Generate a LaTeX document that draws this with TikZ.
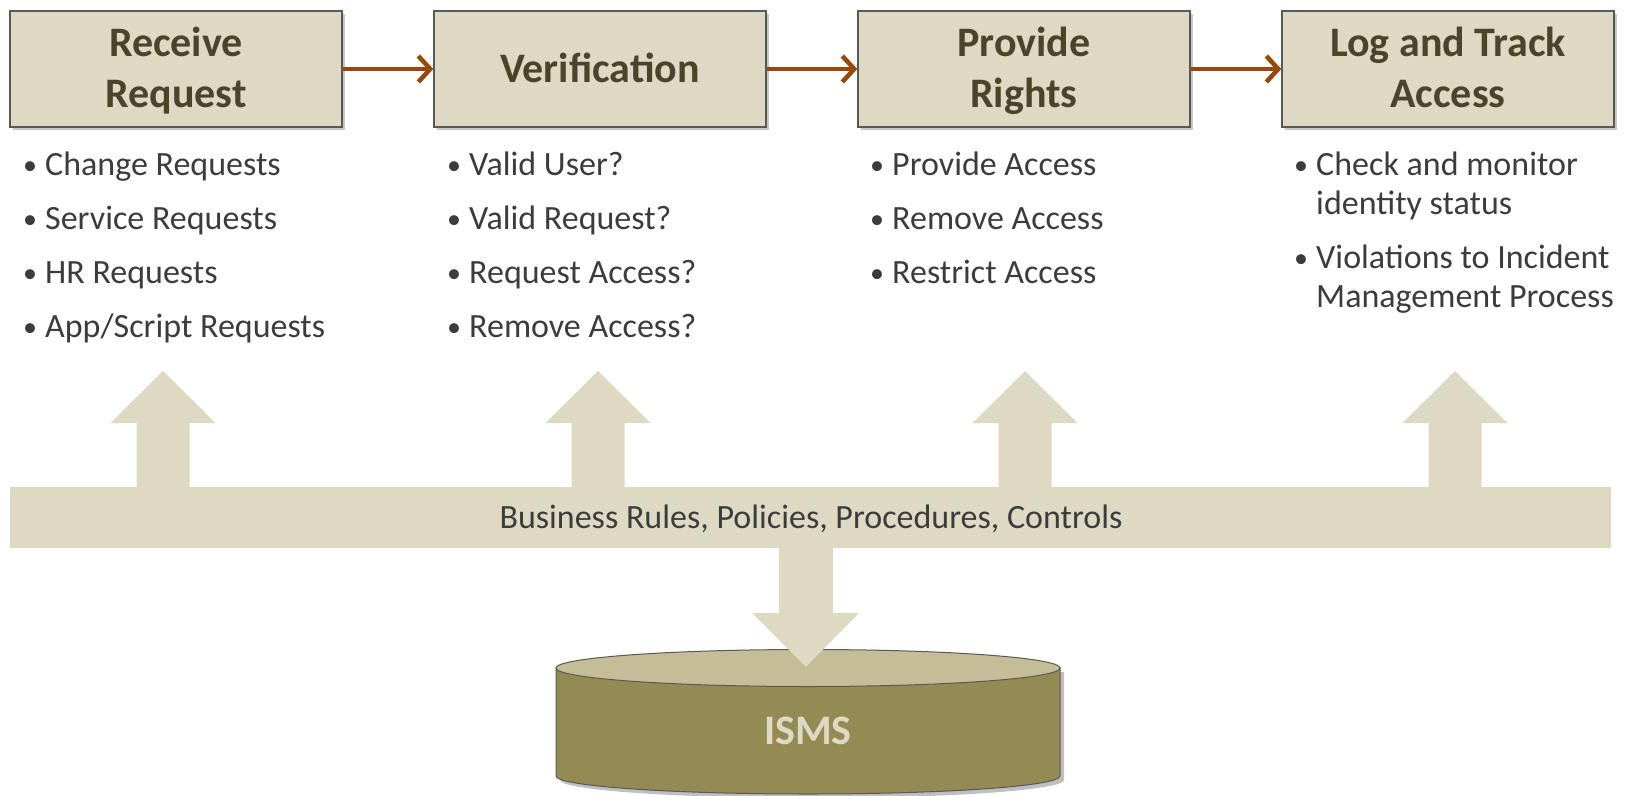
\documentclass[tikz,border=0pt]{standalone}
\usepackage{fontspec}
\setmainfont{Carlito}
\usetikzlibrary{positioning,shadows,arrows.meta}

\definecolor{tanfill}{HTML}{DDD9C3}
\definecolor{boxline}{HTML}{595959}
\definecolor{titletext}{HTML}{4A442A}
\definecolor{itemtext}{HTML}{3C3C3C}
\definecolor{flowbrown}{HTML}{984807}
\definecolor{ismstop}{HTML}{C4BD97}
\definecolor{ismsbody}{HTML}{948A54}

% bullet and hanging indent for the item lists
\newcommand{\bul}{\makebox[22pt][l]{\raisebox{1pt}{\fontsize{28}{0}\selectfont\textbullet}}}
\newcommand{\hang}{\hspace*{22pt}}
% same line box for every title line
\newcommand{\tstrut}{\rule[-10pt]{0pt}{46pt}}

\begin{document}
\begin{tikzpicture}[x=1pt, y=-1pt, auto]
\tikzstyle{stage}=[rectangle, draw=boxline, line width=1.3pt, fill=tanfill,
  minimum width=332pt, minimum height=116pt, align=center, text=titletext,
  font=\bfseries\fontsize{42}{51}\selectfont,
  drop shadow={shadow xshift=3pt, shadow yshift=-3pt, opacity=0.45}]
\tikzstyle{items}=[anchor=north west, align=left, inner sep=0pt, text=itemtext,
  font=\fontsize{34}{39}\selectfont]
\tikzstyle{pre}=[{Straight Barb[length=12pt, width=26pt]}-, line width=4.5pt, draw=flowbrown]
\tikzstyle{band}=[fill=tanfill]
%
\useasboundingbox (0,0) rectangle (1627,795);

% process stages
\node [stage] (recv) at (176,69) {\tstrut Receive\\\tstrut Request};
\node [stage] (verif) [right=90.7pt of recv] {\tstrut Verification}
	edge [pre] (recv);
\node [stage] (rights) [right=90.7pt of verif] {\tstrut Provide\\\tstrut Rights}
	edge [pre] (verif);
\node [stage] (logtrack) [right=90.7pt of rights] {\tstrut Log and Track\\\tstrut Access}
	edge [pre] (rights);

% what each stage covers
\node [items] (recvlist) at (23,152) {\bul Change Requests\\[15pt]
  \bul Service Requests\\[15pt]
  \bul HR Requests\\[15pt]
  \bul App/Script Requests};
\node [items] (veriflist) at (447,152) {\bul Valid User?\\[15pt]
  \bul Valid Request?\\[15pt]
  \bul Request Access?\\[15pt]
  \bul Remove Access?};
\node [items] (rightslist) at (870,152) {\bul Provide Access\\[15pt]
  \bul Remove Access\\[15pt]
  \bul Restrict Access};
\node [items] (loglist) at (1294,152) {\bul Check and monitor\\
  \hang identity status\\[15pt]
  \bul Violations to Incident\\
  \hang Management Process};

% ISMS store
\fill [black, opacity=0.25] (560,672) -- (560,780) arc [start angle=180, end angle=0, x radius=252, y radius=18]
  -- (1064,672) -- cycle;
\filldraw [fill=ismsbody, draw=boxline, line width=1pt] (556,668) -- (556,776)
  arc [start angle=180, end angle=0, x radius=252, y radius=18] -- (1060,668) -- cycle;
\filldraw [fill=ismstop, draw=boxline, line width=1pt] (808,668) ellipse [x radius=252, y radius=18.5];
\node [text=tanfill, font=\bfseries\fontsize{42}{50}\selectfont] (isms) at (808,731) {ISMS};

% rules band with its arrows
\fill [band] (10,487) rectangle (1611,548);
\foreach \c in {163,598,1025,1455}
  \fill [band] (\c-26.5,488) -- (\c-26.5,423) -- (\c-52.5,423) -- (\c,371)
    -- (\c+52.5,423) -- (\c+26.5,423) -- (\c+26.5,488) -- cycle;
\fill [band] (779,547) -- (779,613) -- (752,613) -- (806,667) -- (859,613) -- (833,613) -- (833,547) -- cycle;
\node [text=itemtext, font=\fontsize{34}{40}\selectfont] (rules) at (811,519) {Business Rules, Policies, Procedures, Controls};
\end{tikzpicture}
\end{document}
